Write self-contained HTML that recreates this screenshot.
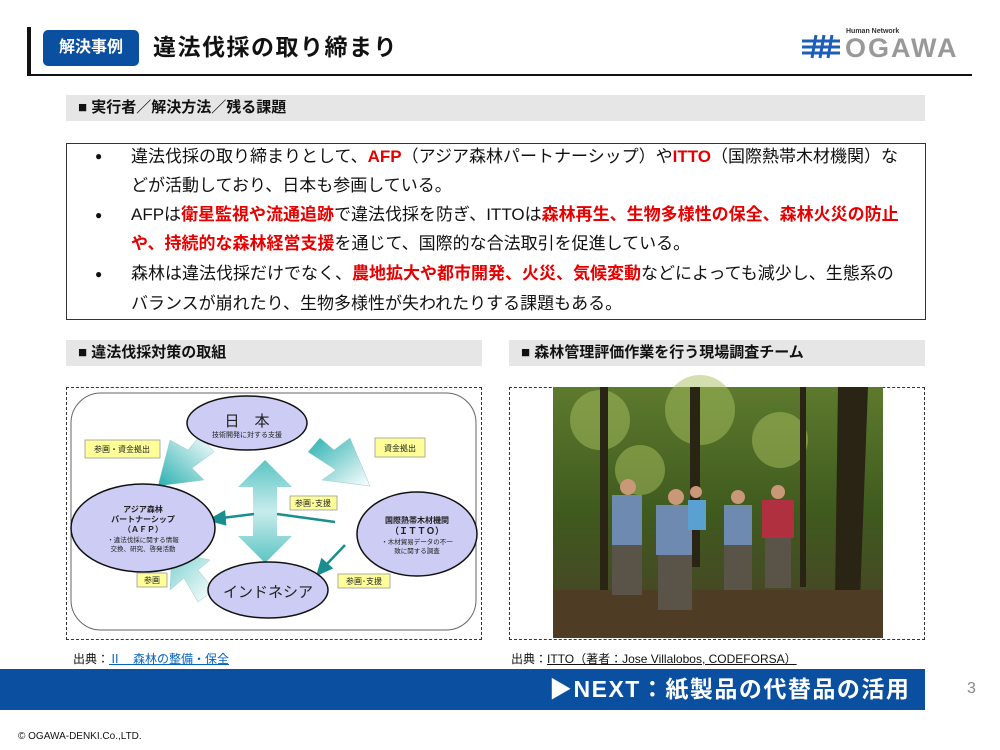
<!DOCTYPE html>
<html><head><meta charset="utf-8"><style>
*{margin:0;padding:0;box-sizing:border-box}
body{width:1000px;height:750px;position:relative;background:#fff;font-family:"Liberation Sans","Noto Sans CJK JP",sans-serif;color:#111;overflow:hidden}
.a{position:absolute;white-space:nowrap}
.sec{position:absolute;background:#e6e6e6;font-weight:bold;font-size:15px;padding-left:12px;line-height:26px}
.r{color:#e60000;font-weight:bold}
.ln{position:absolute;left:131px;font-size:17px;white-space:nowrap;line-height:20px}
.bl{position:absolute;left:95px;font-size:12px}
</style></head><body>
<div class="a" style="left:27px;top:27px;width:4px;height:48px;background:#111"></div>
<div class="a" style="left:43px;top:30px;width:96px;height:36px;background:#0a4fa0;border-radius:5px;color:#fff;font-size:16px;font-weight:bold;text-align:center;line-height:36px">解決事例</div>
<div class="a" style="left:153px;top:32px;font-size:23px;font-weight:bold;line-height:30px;letter-spacing:1.5px">違法伐採の取り締まり</div>
<div class="a" style="left:27px;top:74px;width:945px;height:2px;background:#111"></div>
<!-- logo -->
<div class="a" style="left:800px;top:33px;width:42px;height:26px">
<svg width="42" height="26"><g stroke="#1d5fb8" stroke-width="3"><line x1="2" y1="8" x2="40" y2="8"/><line x1="2" y1="14" x2="40" y2="14"/><line x1="2" y1="20" x2="40" y2="20"/><line x1="16" y1="2" x2="12" y2="25"/><line x1="24" y1="2" x2="20" y2="25"/><line x1="32" y1="2" x2="28" y2="25"/></g></svg></div>
<div class="a" style="left:846px;top:28px;font-size:7px;font-weight:bold;color:#333">Human Network</div>
<div class="a" style="left:845px;top:34px;font-size:27px;font-weight:bold;color:#999;letter-spacing:2px;line-height:28px">OGAWA</div>

<div class="sec" style="left:66px;top:95px;width:859px">■ 実行者／解決方法／残る課題</div>
<div class="a" style="left:66px;top:143px;width:860px;height:177px;border:1px solid #333"></div>
<div class="bl" style="top:149px">●</div>
<div class="ln" style="top:147px">違法伐採の取り締まりとして、<span class="r">AFP</span>（アジア森林パートナーシップ）や<span class="r">ITTO</span>（国際熱帯木材機関）な</div>
<div class="ln" style="top:176px">どが活動しており、日本も参画している。</div>
<div class="bl" style="top:208px">●</div>
<div class="ln" style="top:205px">AFPは<span class="r">衛星監視や流通追跡</span>で違法伐採を防ぎ、ITTOは<span class="r">森林再生、生物多様性の保全、森林火災の防止</span></div>
<div class="ln" style="top:234px"><span class="r">や、持続的な森林経営支援</span>を通じて、国際的な合法取引を促進している。</div>
<div class="bl" style="top:267px">●</div>
<div class="ln" style="top:264px">森林は違法伐採だけでなく、<span class="r">農地拡大や都市開発、火災、気候変動</span>などによっても減少し、生態系の</div>
<div class="ln" style="top:294px">バランスが崩れたり、生物多様性が失われたりする課題もある。</div>

<div class="sec" style="left:66px;top:340px;width:416px">■ 違法伐採対策の取組</div>
<div class="sec" style="left:509px;top:340px;width:416px">■ 森林管理評価作業を行う現場調査チーム</div>

<div class="a" style="left:66px;top:387px;width:416px;height:253px;border:1px dashed #333"></div>
<div class="a" style="left:509px;top:387px;width:416px;height:253px;border:1px dashed #333"></div>

<svg class="a" style="left:0;top:0" width="1000" height="750">
<defs>
<linearGradient id="g1" x1="1" y1="0" x2="0" y2="1"><stop offset="0" stop-color="#fff"/><stop offset="1" stop-color="#2ab0b0"/></linearGradient>
<linearGradient id="g2" x1="0" y1="0" x2="1" y2="1"><stop offset="0" stop-color="#2ab0b0"/><stop offset="1" stop-color="#fff"/></linearGradient>
<linearGradient id="g3" x1="0" y1="0" x2="0" y2="1"><stop offset="0" stop-color="#5cc4c4"/><stop offset=".5" stop-color="#c8ecec"/><stop offset="1" stop-color="#5cc4c4"/></linearGradient>
<linearGradient id="g4" x1="1" y1="1" x2="0" y2="0"><stop offset="0" stop-color="#fff"/><stop offset="1" stop-color="#7cd0d0"/></linearGradient>
<linearGradient id="ph" x1="0" y1="0" x2="0" y2="1"><stop offset="0" stop-color="#5d7a2e"/><stop offset=".5" stop-color="#3f5a1e"/><stop offset="1" stop-color="#4a4028"/></linearGradient>
</defs>
<rect x="71" y="393" width="405" height="237" rx="30" fill="#fff" stroke="#666"/>
<!-- big arrows -->
<polygon points="200,436 188,450 170,440 158,486 204,480 192,468 214,452" fill="url(#g1)" stroke="#9cc" stroke-width=".5"/>
<polygon points="320,438 334,450 350,438 370,486 322,480 336,470 308,452" fill="url(#g2)" stroke="#9cc" stroke-width=".5"/>
<polygon points="214,590 198,570 210,560 172,552 170,590 184,578 198,602" fill="url(#g4)" stroke="#9cc" stroke-width=".5"/>
<polygon points="265,460 292,487 277,487 277,536 292,536 265,563 238,536 253,536 253,487 238,487" fill="url(#g3)"/>
<!-- teal arrows -->
<g stroke="#1a8e8e" stroke-width="2.5" fill="#1a8e8e">
<line x1="254" y1="514" x2="222" y2="518"/><polygon points="210,520 224,512 225,524"/>
<line x1="277" y1="514" x2="335" y2="522"/>
<line x1="345" y1="545" x2="326" y2="565"/><polygon points="318,574 322,560 331,568"/>
</g>
<g stroke="#111" stroke-width="1.5" fill="#ccccf4">
<ellipse cx="247" cy="423" rx="60" ry="27"/>
<ellipse cx="143" cy="528" rx="72" ry="44"/>
<ellipse cx="417" cy="534" rx="60" ry="42"/>
<ellipse cx="268" cy="590" rx="60" ry="28"/>
</g>
<g font-size="14" text-anchor="middle" fill="#222" font-family="Liberation Sans,Noto Sans CJK JP,sans-serif">
<text x="247" y="426" font-size="15">日　本</text>
<text x="247" y="437" font-size="7">技術開発に対する支援</text>
<text x="143" y="512" font-size="8" font-weight="bold">アジア森林</text>
<text x="143" y="522" font-size="8" font-weight="bold">パートナーシップ</text>
<text x="143" y="532" font-size="8" font-weight="bold">（ＡＦＰ）</text>
<text x="143" y="542" font-size="6.5">・違法伐採に関する情報</text>
<text x="143" y="551" font-size="6.5">交換、研究、啓発活動</text>
<text x="417" y="523" font-size="8" font-weight="bold">国際熱帯木材機関</text>
<text x="417" y="534" font-size="9" font-weight="bold">（ＩＴＴＯ）</text>
<text x="417" y="544" font-size="6.5">・木材貿易データの不一</text>
<text x="417" y="553" font-size="6.5">致に関する調査</text>
<text x="268" y="597" font-size="15">インドネシア</text>
</g>
<g fill="#ffff99" stroke="#999" stroke-width=".8">
<rect x="85" y="440" width="75" height="18"/><rect x="375" y="438" width="50" height="19"/>
<rect x="290" y="496" width="47" height="14"/><rect x="137" y="573" width="30" height="14"/>
<rect x="338" y="574" width="52" height="14"/>
</g>
<g font-size="8" text-anchor="middle" fill="#222" font-family="Liberation Sans,Noto Sans CJK JP,sans-serif">
<text x="122" y="452">参画・資金拠出</text><text x="400" y="451">資金拠出</text>
<text x="313" y="506">参画･支援</text><text x="152" y="583">参画</text><text x="364" y="584">参画･支援</text>
</g>
<!-- photo -->
<rect x="553" y="387" width="330" height="251" fill="url(#ph)"/>
<g fill="#a8c060" opacity=".5"><circle cx="600" cy="420" r="30"/><circle cx="700" cy="410" r="35"/><circle cx="780" cy="440" r="28"/><circle cx="640" cy="470" r="25"/></g>
<g fill="#2a2414"><rect x="600" y="387" width="8" height="251"/><rect x="690" y="387" width="10" height="180"/><rect x="800" y="387" width="6" height="200"/><polygon points="838,387 868,387 860,600 835,600"/></g>
<rect x="553" y="590" width="330" height="48" fill="#4e3c24"/>
<g fill="#6e8ab0"><rect x="612" y="495" width="30" height="50"/><rect x="656" y="505" width="36" height="50"/><rect x="724" y="505" width="28" height="40"/></g>
<rect x="688" y="500" width="18" height="30" fill="#5aa0d0"/>
<rect x="762" y="500" width="32" height="38" fill="#b03040"/>
<g fill="#5a5448"><rect x="612" y="545" width="30" height="50"/><rect x="658" y="555" width="34" height="55"/><rect x="724" y="545" width="28" height="45"/><rect x="765" y="538" width="26" height="50"/></g>
<g fill="#c89878"><circle cx="628" cy="487" r="8"/><circle cx="676" cy="497" r="8"/><circle cx="696" cy="492" r="6"/><circle cx="738" cy="497" r="7"/><circle cx="778" cy="492" r="7"/></g>
</svg>

<div class="a" style="left:73px;top:650px;font-size:12px">出典：<span style="color:#0563c1;text-decoration:underline">Ⅱ　森林の整備・保全</span></div>
<div class="a" style="left:511px;top:650px;font-size:12px">出典：<span style="text-decoration:underline">ITTO（著者：Jose Villalobos, CODEFORSA）</span></div>

<div class="a" style="left:0;top:669px;width:925px;height:41px;background:#0a4fa0"></div>
<div class="a" style="left:549px;top:674px;font-size:23px;font-weight:bold;color:#fff;line-height:30px;letter-spacing:1.5px">▶NEXT：紙製品の代替品の活用</div>
<div class="a" style="left:967px;top:680px;font-size:16px;color:#888">3</div>
<div class="a" style="left:18px;top:731px;font-size:10px">© OGAWA-DENKI.Co.,LTD.</div>
</body></html>
